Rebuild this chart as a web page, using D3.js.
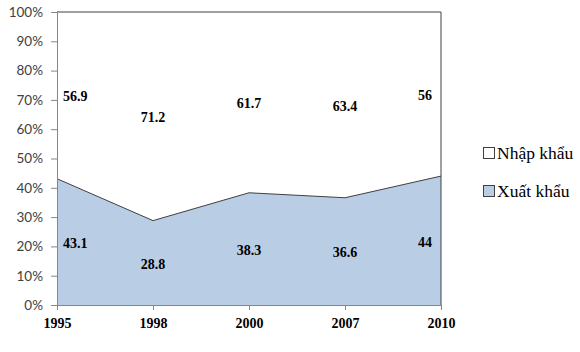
<!DOCTYPE html>
<html>
<head>
<meta charset="utf-8">
<script src="https://cdn.jsdelivr.net/npm/d3@7"></script>
<style>
  body { margin: 0; background: #fff; }
</style>
</head>
<body>
<svg id="chart" width="580" height="352"></svg>
<script>
var years = ["1995", "1998", "2000", "2007", "2010"];
var xuatKhau = [43.1, 28.8, 38.3, 36.6, 44];
var nhapKhau = [56.9, 71.2, 61.7, 63.4, 56];
var yTicks = [0, 10, 20, 30, 40, 50, 60, 70, 80, 90, 100];
var legendNames = ["Nhập khẩu", "Xuất khẩu"];

var plotLeft = 57, plotRight = 441, plotTop = 12, plotBottom = 305;

var svg = d3.select('#chart');

let xScale = d3.scalePoint().domain(years).range([plotLeft, plotRight]);
let yScale = d3.scaleLinear().domain([0, 100]).range([plotBottom, plotTop]);

var rows = years.map(function (y, i) {
    return { year: y, xk: xuatKhau[i], nk: nhapKhau[i] };
});

// export area
svg.append('path')
    .datum(rows)
    .attr('d', d3.area()
        .x(function (d) { return xScale(d.year); })
        .y0(yScale(0))
        .y1(function (d) { return yScale(d.xk); }))
    .attr('fill', '#b9cde5');

svg.append('path')
    .datum(rows)
    .attr('d', d3.line()
        .x(function (d) { return xScale(d.year); })
        .y(function (d) { return yScale(d.xk); }))
    .attr('fill', 'none')
    .attr('stroke', '#404040')
    .attr('stroke-width', 1);

// frame top / right
svg.append('path')
    .attr('d', 'M' + plotLeft + ',' + yScale(100) + 'H' + plotRight + 'V' + yScale(0))
    .attr('fill', 'none')
    .attr('stroke', '#404040')
    .attr('stroke-width', 1);

// axes
var axisLeft = d3.axisLeft(yScale).tickValues(yTicks)
    .tickFormat(function (d) { return d + '%'; }).tickSize(6).tickPadding(8);
var gy = svg.append('g').attr('transform', 'translate(' + plotLeft + ',0)').call(axisLeft);
gy.select('.domain').attr('stroke', '#868686');
gy.selectAll('.tick line').attr('stroke', '#868686');
gy.selectAll('text')
    .attr('font-family', 'Lato, "Open Sans", sans-serif')
    .attr('font-size', 13.5)
    .attr('fill', '#404040');

var axisBottom = d3.axisBottom(xScale).tickSize(5).tickPadding(8);
var gx = svg.append('g').attr('transform', 'translate(0,' + plotBottom + ')').call(axisBottom);
gx.select('.domain').attr('stroke', '#868686');
gx.selectAll('.tick line').attr('stroke', '#868686');
gx.selectAll('text')
    .attr('font-family', '"Liberation Serif", "Times New Roman", serif')
    .attr('font-weight', 'bold')
    .attr('font-size', 14)
    .attr('fill', '#000');

// data labels
function anchorFor(i) {
    if (i == 0) return 'start';
    if (i == years.length - 1) return 'end';
    return 'middle';
}
function shiftFor(i) {
    if (i == 0) return 6;
    if (i == years.length - 1) return -9;
    return 0;
}

svg.selectAll('.lblNk')
    .data(rows)
    .enter()
    .append('text')
    .attr('class', 'lblNk')
    .attr('x', function (d, i) { return xScale(d.year) + shiftFor(i); })
    .attr('y', function (d) { return yScale(d.xk + d.nk / 2) + 6; })
    .attr('text-anchor', function (d, i) { return anchorFor(i); })
    .attr('font-family', '"Liberation Serif", "Times New Roman", serif')
    .attr('font-weight', 'bold')
    .attr('font-size', 14)
    .text(function (d) { return d.nk; });

svg.selectAll('.lblXk')
    .data(rows)
    .enter()
    .append('text')
    .attr('class', 'lblXk')
    .attr('x', function (d, i) { return xScale(d.year) + shiftFor(i); })
    .attr('y', function (d) { return yScale(d.xk / 2) + 6; })
    .attr('text-anchor', function (d, i) { return anchorFor(i); })
    .attr('font-family', '"Liberation Serif", "Times New Roman", serif')
    .attr('font-weight', 'bold')
    .attr('font-size', 14)
    .text(function (d) { return d.xk; });

// legend
var legendFill = ['#ffffff', '#b9cde5'];
var lg = svg.append('g').attr('transform', 'translate(483,147)');
lg.selectAll('rect')
    .data(legendNames)
    .enter()
    .append('rect')
    .attr('x', 0.5)
    .attr('y', function (d, i) { return i * 38 + 0.5; })
    .attr('width', 11)
    .attr('height', 11)
    .attr('fill', function (d, i) { return legendFill[i]; })
    .attr('stroke', '#404040');
lg.selectAll('text')
    .data(legendNames)
    .enter()
    .append('text')
    .attr('x', 14)
    .attr('y', function (d, i) { return i * 38 + 12; })
    .attr('font-family', '"Liberation Serif", "Times New Roman", serif')
    .attr('font-size', 17.5)
    .attr('fill', '#000')
    .text(function (d) { return d; });
</script>
</body>
</html>
